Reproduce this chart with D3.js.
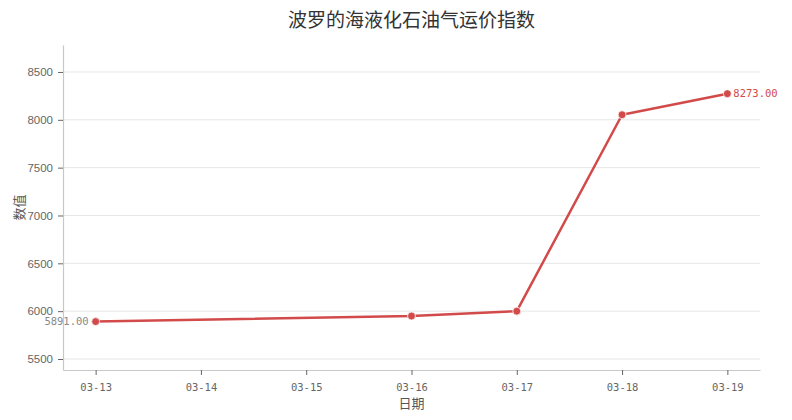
<!DOCTYPE html>
<html>
<head>
<meta charset="utf-8">
<script src="https://cdn.jsdelivr.net/npm/d3@7"></script>
<style>
  body { margin: 0; background: #fff; }
  svg { display: block; }
</style>
</head>
<body>
<script>
// 日期与数值
const dates = ["2024-03-13", "2024-03-16", "2024-03-17", "2024-03-18", "2024-03-19"];
const values = [5891, 5949, 6000, 8053, 8273];
const yTicks = [5500, 6000, 6500, 7000, 7500, 8000, 8500];
const xTickDates = ["2024-03-13", "2024-03-14", "2024-03-15", "2024-03-16", "2024-03-17", "2024-03-18", "2024-03-19"];

const W = 792, H = 420;
const margin = { top: 45, right: 32, bottom: 50, left: 63 },
      width = W - margin.left - margin.right,
      height = H - margin.top - margin.bottom;

const parse = d3.timeParse("%Y-%m-%d");
const data = dates.map((d, i) => ({ date: parse(d), value: values[i] }));
const tickDates = xTickDates.map(parse);

const pad = 0.31 * 864e5;
const x = d3.scaleTime()
    .domain([+tickDates[0] - pad, +tickDates[tickDates.length - 1] + pad])
    .range([0, width]);

const y = d3.scaleLinear()
    .domain([5385, 8782])
    .range([height, 0]);

const red = "#d24a4a";
const cjk = "'Noto Sans CJK SC', sans-serif";
const mono = "'DejaVu Sans Mono', monospace";

const svg = d3.select("body").append("svg")
    .attr("width", W)
    .attr("height", H);

const g = svg.append("g")
    .attr("transform", `translate(${margin.left},${margin.top})`);

// 网格线
g.append("g")
  .selectAll("line")
  .data(yTicks)
  .enter().append("line")
    .attr("x1", 0)
    .attr("x2", width)
    .attr("y1", d => y(d))
    .attr("y2", d => y(d))
    .attr("stroke", "#e6e6e6")
    .attr("stroke-width", 1);

// x 轴
const xAxis = g.append("g")
    .attr("transform", `translate(0,${height})`)
    .call(d3.axisBottom(x).tickValues(tickDates).tickFormat(d3.timeFormat("%m-%d")).tickSize(5).tickSizeOuter(0));
xAxis.select(".domain").attr("stroke", "#c8c8c8").attr("stroke-width", 1.2);
xAxis.selectAll(".tick line").attr("stroke", "#666");
xAxis.selectAll(".tick text")
    .attr("fill", "#666")
    .attr("font-size", 10.5)
    .attr("font-family", mono)
    .attr("dy", "1.2em");

// y 轴
const yAxis = g.append("g")
    .call(d3.axisLeft(y).tickValues(yTicks).tickFormat(d3.format("d")).tickSize(5).tickSizeOuter(0).tickPadding(5));
yAxis.select(".domain").attr("stroke", "#c8c8c8").attr("stroke-width", 1.2);
yAxis.selectAll(".tick line").attr("stroke", "#666");
yAxis.selectAll(".tick text")
    .attr("fill", "#666")
    .attr("font-size", 11.5)
    .attr("font-family", "'Liberation Sans', Arial, sans-serif");

// 折线
const line = d3.line()
    .x(d => x(d.date))
    .y(d => y(d.value));

g.append("path")
    .datum(data)
    .attr("fill", "none")
    .attr("stroke", red)
    .attr("stroke-width", 2.5)
    .attr("stroke-linejoin", "round")
    .attr("d", line);

g.append("g")
  .selectAll("circle")
  .data(data)
  .enter().append("circle")
    .attr("cx", d => x(d.date))
    .attr("cy", d => y(d.value))
    .attr("r", 4)
    .attr("fill", red)
    .attr("stroke", "#fff")
    .attr("stroke-width", 0.8);

// 首尾标注
const first = data[0], last = data[data.length - 1];
g.append("text")
    .attr("x", x(first.date) - 7)
    .attr("y", y(first.value))
    .attr("dy", "0.35em")
    .attr("text-anchor", "end")
    .attr("fill", "#888")
    .attr("font-size", 10.5)
    .attr("font-family", mono)
    .text(first.value.toFixed(2));

g.append("text")
    .attr("x", x(last.date) + 6)
    .attr("y", y(last.value))
    .attr("dy", "0.35em")
    .attr("text-anchor", "start")
    .attr("fill", red)
    .attr("font-size", 10.5)
    .attr("font-family", mono)
    .text(last.value.toFixed(2));

// 标题与轴标题
svg.append("text")
    .attr("x", margin.left + width / 2)
    .attr("y", 27)
    .attr("text-anchor", "middle")
    .attr("fill", "#333")
    .attr("font-size", 19)
    .attr("font-family", cjk)
    .text("波罗的海液化石油气运价指数");

svg.append("text")
    .attr("x", margin.left + width / 2)
    .attr("y", 408)
    .attr("text-anchor", "middle")
    .attr("fill", "#555")
    .attr("font-size", 13)
    .attr("font-family", cjk)
    .text("日期");

svg.append("text")
    .attr("transform", `translate(24,${margin.top + height / 2}) rotate(-90)`)
    .attr("text-anchor", "middle")
    .attr("fill", "#555")
    .attr("font-size", 13)
    .attr("font-family", cjk)
    .text("数值");
</script>
</body>
</html>
